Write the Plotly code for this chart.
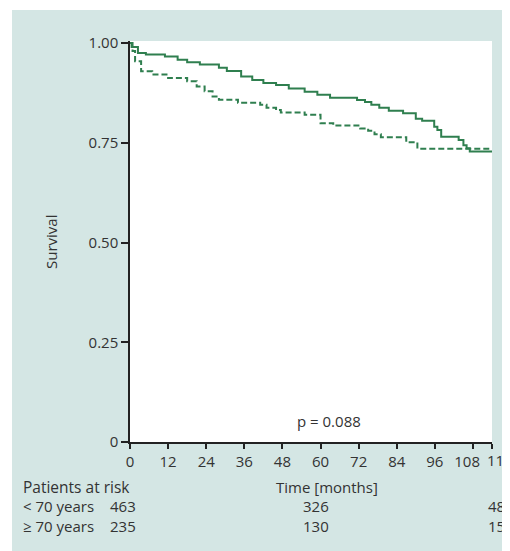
import plotly.graph_objects as go

# Kaplan-Meier data
t_young = [0, 0.5, 2.5, 5, 11, 15, 18, 22, 28, 30.5, 35, 38.5, 42, 46, 50, 55, 59, 63,
           71.5, 74, 76, 78.5, 81.5, 86, 90, 92, 95.8, 96.8, 98, 103.5, 105, 106, 107, 114]
s_young = [1.0, 0.99, 0.975, 0.971, 0.966, 0.958, 0.952, 0.946, 0.938, 0.93, 0.916, 0.907,
           0.9, 0.895, 0.886, 0.878, 0.87, 0.863, 0.857, 0.852, 0.845, 0.838, 0.83, 0.824,
           0.81, 0.805, 0.79, 0.782, 0.765, 0.757, 0.744, 0.736, 0.728, 0.728]

t_old = [0, 0.8, 1.6, 3.5, 7, 12, 18, 21, 23.5, 26, 28, 34, 41, 43, 46, 47.5, 55, 60, 64,
         72.5, 75, 77, 79, 87, 90.5, 114]
s_old = [1.0, 0.98, 0.954, 0.929, 0.921, 0.912, 0.904, 0.891, 0.879, 0.866, 0.858, 0.85,
         0.845, 0.838, 0.832, 0.826, 0.82, 0.799, 0.793, 0.786, 0.78, 0.771, 0.764, 0.751,
         0.735, 0.735]

x_ticks = [0, 12, 24, 36, 48, 60, 72, 84, 96, 108, 114]
x_ticktext = ["0", "12", "24", "36", "48", "60", "72", "84", "96",
              "108\u00a0\u00a0\u00a0", ""]
x_last_label = "114"
y_ticks = [0, 0.25, 0.5, 0.75, 1.0]
y_ticktext = ["0", "0.25", "0.50", "0.75", "1.00"]

groups = ["< 70 years", "≥ 70 years"]
risk_0 = [463, 235]
risk_60 = [326, 130]
risk_114 = [48, 15]

# page body has an 8px margin; figure sized to fit inside the 510x551 window
OFF = 8
W, H = 510 - OFF, 551 - OFF
L, T = 122, 33
pw, ph = 362, 401
R, B = W - L - pw, H - T - ph


def px(x):  # window pixel -> paper fraction
    return (x - OFF - L) / pw


def py(y):
    return (T + ph - (y - OFF)) / ph


GREEN = "#2f7f4f"
TXT = "#333333"
BG = "#d4e6e4"
FONT = "Open Sans"
TS = 15

fig = go.Figure()
fig.add_trace(go.Scatter(x=t_young, y=s_young, mode="lines", line_shape="hv",
                         line=dict(color=GREEN, width=2), showlegend=False))
fig.add_trace(go.Scatter(x=t_old, y=s_old, mode="lines", line_shape="hv",
                         line=dict(color=GREEN, width=2, dash="6px,3px"), showlegend=False))

shapes = [
    dict(type="rect", xref="paper", yref="paper", x0=px(12), x1=1 + R / pw, y0=-B / ph, y1=py(10),
         fillcolor=BG, line=dict(width=0), layer="below"),
    dict(type="rect", xref="paper", yref="paper", x0=0, x1=1, y0=0, y1=1,
         fillcolor="white", line=dict(width=0), layer="below"),
]

ann = []
f = dict(family=FONT, size=TS, color=TXT)


def add(x, y, text, xa="center", font=f, **kw):
    ann.append(dict(x=px(x), y=py(y), xref="paper", yref="paper", text=text,
                    showarrow=False, xanchor=xa, yanchor="middle", font=font, **kw))


add(51, 242, "Survival", textangle=-90)
add(329, 421, "p = 0.088")
add(485, 460, x_last_label, xa="left")
add(21, 487, "Patients at risk", xa="left", font=dict(family=FONT, size=15.5, color=TXT))
add(327, 487, "Time [months]")
for i, g in enumerate(groups):
    yy = 506 + 20 * i
    add(21, yy, g, xa="left")
    add(138, yy, str(risk_0[i]), xa="right")
    add(316, yy, str(risk_60[i]))
    add(507, yy, str(risk_114[i]), xa="right")

fig.update_layout(
    width=W, height=H,
    margin=dict(l=L, r=R, t=T, b=B, pad=0),
    paper_bgcolor="white", plot_bgcolor="rgba(0,0,0,0)",
    shapes=shapes, annotations=ann,
    font=dict(family=FONT, size=TS, color=TXT),
    xaxis=dict(range=[0, 114], tickvals=x_ticks, ticktext=x_ticktext, tickangle=0,
               ticks="outside", ticklen=5, tickwidth=1.5,
               tickcolor="#222", showline=True, linecolor="#222", linewidth=1.5,
               showgrid=False, zeroline=False, tickfont=dict(family=FONT, size=TS, color=TXT)),
    yaxis=dict(range=[0, 1.005], tickvals=y_ticks, ticktext=y_ticktext, ticks="outside",
               ticklen=7, tickwidth=1.5, tickcolor="#222", showline=True, linecolor="#222",
               linewidth=1.5, showgrid=False, zeroline=False,
               tickfont=dict(family=FONT, size=TS, color=TXT)),
)

fig.write_html("out.html")
